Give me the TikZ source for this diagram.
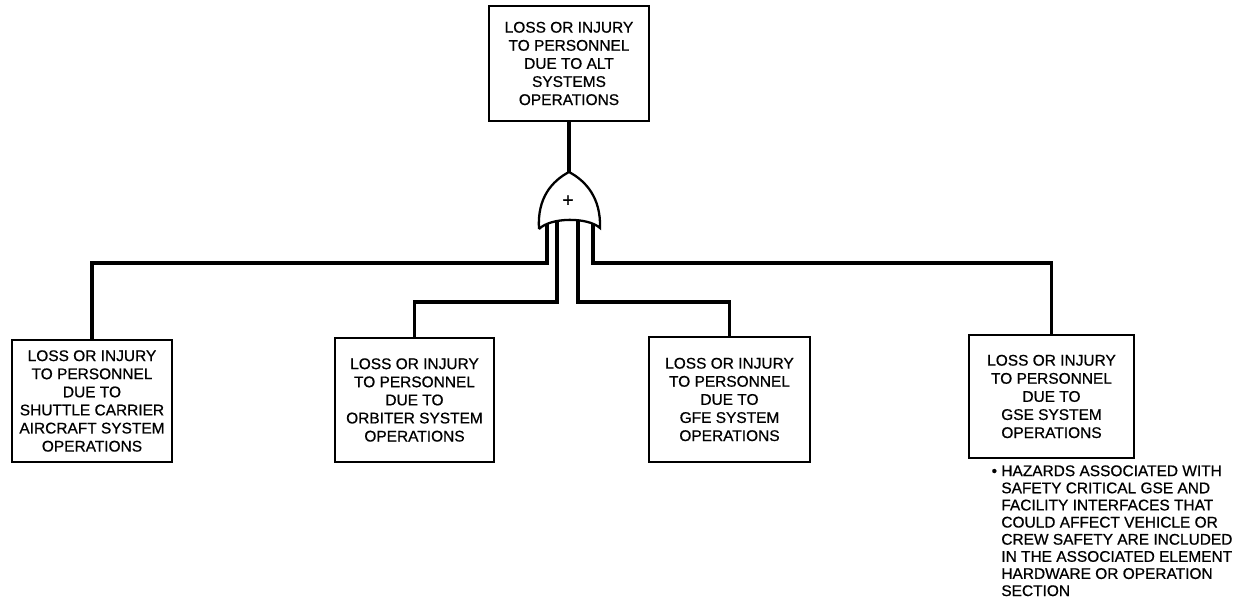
\documentclass[tikz,border=0pt]{standalone}
\usepackage{fontspec}
\setmainfont{Liberation Sans}[FakeBold=0.7]
\setsansfont{Liberation Sans}[FakeBold=0.7]
\usetikzlibrary{positioning}

\begin{document}
\begin{tikzpicture}[
      x=0.02cm, y=-0.02cm,
      font=\sffamily\fontsize{8.8}{10.3}\selectfont,
      box/.style={draw, line width=1.6pt, align=center, inner sep=2pt},
      link/.style={line width=2.2pt, line join=miter},
      gateline/.style={line width=1.3pt, fill=white},
      note/.style={align=left, inner sep=0pt, anchor=north west,
        font=\sffamily\fontsize{8.8}{9.75}\selectfont}
    ]

    \path[use as bounding box] (0,0) rectangle (1248,607);

    % Top event
    \node[box, minimum width=3.2cm, minimum height=2.3cm] (top) at (569,63.5)
    {LOSS OR INJURY\\TO PERSONNEL\\DUE TO ALT\\SYSTEMS\\OPERATIONS};

    % Lower events
    \node[box, minimum width=3.2cm, minimum height=2.44cm] (sca) at (92,401)
    {LOSS OR INJURY\\TO PERSONNEL\\DUE TO\\SHUTTLE CARRIER\\AIRCRAFT SYSTEM\\OPERATIONS};
    \node[box, minimum width=3.18cm, minimum height=2.48cm] (orb) at (414.5,400)
    {LOSS OR INJURY\\TO PERSONNEL\\DUE TO\\ORBITER SYSTEM\\OPERATIONS};
    \node[box, minimum width=3.22cm, minimum height=2.5cm] (gfe) at (729.5,399.5)
    {LOSS OR INJURY\\TO PERSONNEL\\DUE TO\\GFE SYSTEM\\OPERATIONS};
    \node[box, minimum width=3.3cm, minimum height=2.46cm] (gse) at (1051.5,396.5)
    {LOSS OR INJURY\\TO PERSONNEL\\DUE TO\\GSE SYSTEM\\OPERATIONS};

    % Gate inputs and output
    \coordinate (gate) at (569,172);
    \coordinate (in1) at (547,215);
    \coordinate (in2) at (557,212);
    \coordinate (in3) at (578,212);
    \coordinate (in4) at (593,215);

    % Connectors
    \draw[link] (top.south) -- (gate);
    \draw[link] (in1) |- (sca.north |- 0,263) -- (sca.north);
    \draw[link] (in2) |- (orb.north |- 0,302) -- (orb.north);
    \draw[link] (in3) |- (gfe.north |- 0,302) -- (gfe.north);
    \draw[link] (in4) |- (gse.north |- 0,263) -- (gse.north);

    % OR gate
    \draw[gateline] (539,229) .. controls (537,198) and (552,181) .. (gate)
      .. controls (586,181) and (601,198) .. (600,228)
      .. controls (588,217) and (551,217) .. (539,229);
    \node[inner sep=0pt, font=\sffamily\fontsize{11}{11}\selectfont] (plus) at (568,201) {+};

    % Note under GSE box
    \node[note] (hazard) at (1001,465)
    {\llap{\textbullet\ }HAZARDS ASSOCIATED WITH\\SAFETY CRITICAL GSE AND\\FACILITY INTERFACES THAT\\COULD AFFECT VEHICLE OR\\CREW SAFETY ARE INCLUDED\\IN THE ASSOCIATED ELEMENT\\HARDWARE OR OPERATION\\SECTION};

  \end{tikzpicture}
\end{document}
